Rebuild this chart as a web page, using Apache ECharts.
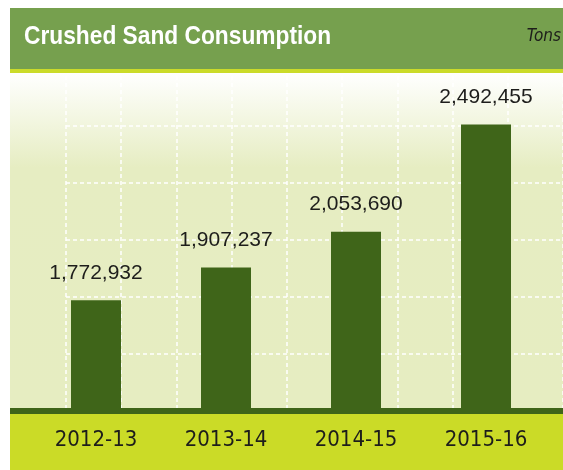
<!DOCTYPE html>
<html>
<head>
<meta charset="utf-8">
<script src="https://cdn.jsdelivr.net/npm/echarts@6/dist/echarts.min.js"></script>
<style>
  html, body { margin: 0; padding: 0; background: #fff; }
  #chart { width: 563px; height: 470px; }
</style>
</head>
<body>
<div id="chart"></div>
<script>
  const years = ['2012-13', '2013-14', '2014-15', '2015-16'];
  const consumption = [1772932, 1907237, 2053690, 2492455];
  const titleText = 'Crushed Sand Consumption';
  const unitText = 'Tons';

  const condensed = "'Liberation Sans Narrow', 'DejaVu Sans Condensed', 'Liberation Sans', sans-serif";

  const chart = echarts.init(document.getElementById('chart'));

  function withCommas(v) {
    return String(v).replace(/\B(?=(\d{3})+(?!\d))/g, ',');
  }

  chart.setOption({
    animation: false,
    backgroundColor: '#fff',
    graphic: [
      // plot background
      {
        type: 'rect',
        z: -10,
        shape: { x: 10, y: 73, width: 553, height: 338 },
        style: {
          fill: {
            type: 'linear',
            x: 0, y: 0, x2: 0, y2: 1,
            colorStops: [
              { offset: 0, color: '#ffffff' },
              { offset: 0.28, color: '#e6edc2' },
              { offset: 1, color: '#e6edc1' },
            ],
          },
        },
      },
      // header
      {
        type: 'rect',
        z: 1,
        shape: { x: 10, y: 8, width: 553, height: 61 },
        style: { fill: '#76a04e' },
      },
      {
        type: 'rect',
        z: 1,
        shape: { x: 10, y: 69, width: 553, height: 4 },
        style: { fill: '#cbdb2a' },
      },
      {
        type: 'text',
        z: 20,
        x: 24,
        y: 37,
        scaleX: 0.875,
        style: {
          text: titleText,
          fill: '#fff',
          font: "bold 26px 'Liberation Sans', sans-serif",
          verticalAlign: 'middle',
        },
      },
      {
        type: 'text',
        z: 20,
        x: 561,
        y: 37,
        style: {
          text: unitText,
          fill: '#1d1d1b',
          font: "italic 17px 'DejaVu Sans Condensed', sans-serif",
          align: 'right',
          verticalAlign: 'middle',
        },
      },
      // baseline + bottom band
      {
        type: 'rect',
        z: 5,
        shape: { x: 10, y: 408, width: 553, height: 6 },
        style: { fill: '#3f6519' },
      },
      {
        type: 'rect',
        z: -10,
        shape: { x: 10, y: 414, width: 553, height: 56 },
        style: { fill: '#cbdb27' },
      },
    ],
    grid: [
      { left: 31, right: 12, top: 69, bottom: 59 },
      { left: 66, right: -6, top: 69, bottom: 59 },
    ],
    xAxis: [
      {
        type: 'category',
        gridIndex: 0,
        data: years,
        axisTick: { show: false },
        axisLine: { show: false },
        axisLabel: { color: '#1d1d1b', fontSize: 22, fontFamily: condensed, margin: 18 },
        splitLine: { show: false },
      },
      {
        type: 'value',
        gridIndex: 1,
        min: 0,
        max: 9,
        interval: 1,
        axisLine: { show: false },
        axisTick: { show: false },
        axisLabel: { show: false },
        splitLine: { lineStyle: { color: '#ffffff', width: 1.5, type: [4, 3] } },
      },
    ],
    yAxis: [
      {
        type: 'value',
        gridIndex: 0,
        min: 1320000,
        max: 2720000,
        show: false,
        splitLine: { show: false },
      },
      {
        type: 'value',
        gridIndex: 1,
        min: 0,
        max: 6,
        interval: 1,
        axisLine: { show: false },
        axisTick: { show: false },
        axisLabel: { show: false },
        splitLine: { lineStyle: { color: '#ffffff', width: 1.5, type: [4, 3] } },
      },
    ],
    series: [
      {
        type: 'bar',
        xAxisIndex: 0,
        yAxisIndex: 0,
        barWidth: 50,
        itemStyle: { color: '#3f6519' },
        label: {
          show: true,
          position: 'top',
          distance: 17,
          color: '#1d1d1b',
          fontSize: 21,
          fontFamily: "'Liberation Sans', sans-serif",
          formatter: (p) => withCommas(p.value),
        },
        data: consumption,
      },
    ],
  });
</script>
</body>
</html>
